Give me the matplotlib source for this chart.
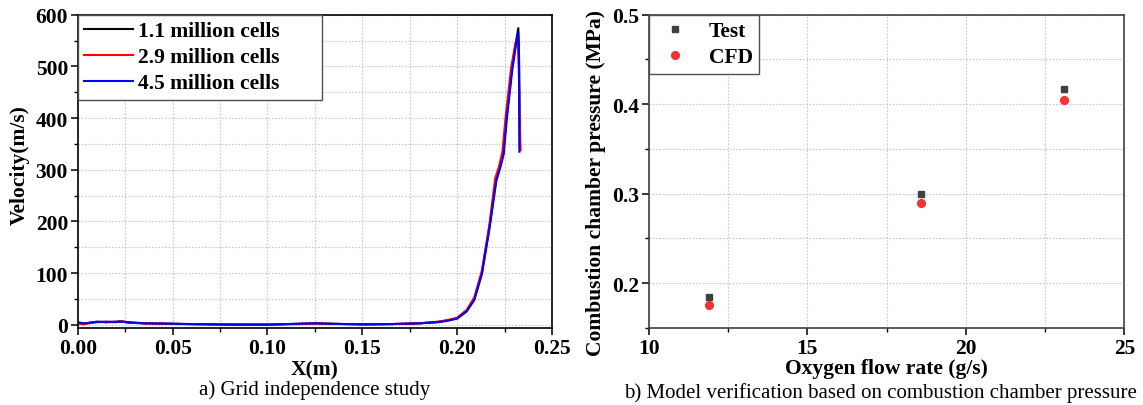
import matplotlib
matplotlib.use("Agg")
import matplotlib.pyplot as plt
from matplotlib.ticker import MultipleLocator, FormatStrFormatter

plt.rcParams['font.family'] = ['Liberation Serif', 'DejaVu Serif']

# ---------------- data: panel a ----------------
x_11 = [0.000, 0.003, 0.006, 0.010, 0.015, 0.020, 0.023, 0.027, 0.035, 0.045, 0.060, 0.080,
        0.100, 0.115, 0.125, 0.135, 0.150, 0.165, 0.180, 0.190, 0.195, 0.200, 0.205, 0.209,
        0.213, 0.217, 0.2205, 0.2225, 0.2243, 0.2260, 0.2288, 0.2310, 0.2322, 0.2326, 0.2328, 0.2330]
v_11 = [4, 2, 4, 6, 5, 6, 7, 4, 3, 2.5, 1.5, 0.5,
        0.5, 2, 3, 2, 1, 1.5, 3, 6, 9, 13, 27, 50,
        100, 190, 280, 305, 332, 402, 495, 548, 574, 520, 430, 340]

x_29 = [0.000, 0.003, 0.006, 0.010, 0.015, 0.020, 0.023, 0.027, 0.035, 0.045, 0.060, 0.080,
        0.100, 0.115, 0.125, 0.135, 0.150, 0.165, 0.180, 0.190, 0.195, 0.200, 0.205, 0.209,
        0.213, 0.217, 0.2200, 0.2220, 0.2238, 0.2256, 0.2284, 0.2307, 0.2320, 0.2326, 0.2330, 0.2334]
v_29 = [3, 1, 3, 5, 6, 5, 7, 5, 3, 2, 1.5, 1,
        0.5, 1.5, 2.5, 2, 1, 1.5, 3, 6, 9, 14, 29, 53,
        105, 195, 283, 306, 334, 405, 497, 545, 560, 470, 390, 338]

x_45 = [0.000, 0.003, 0.006, 0.010, 0.015, 0.020, 0.023, 0.027, 0.035, 0.045, 0.060, 0.080,
        0.100, 0.115, 0.125, 0.135, 0.150, 0.165, 0.180, 0.190, 0.195, 0.200, 0.205, 0.209,
        0.213, 0.217, 0.2206, 0.2226, 0.2245, 0.2262, 0.2290, 0.2311, 0.2322, 0.2326, 0.2327, 0.2328]
v_45 = [5, 3, 4, 6, 6, 6, 6, 5, 3, 2.5, 1.5, 0.5,
        0.5, 2, 3, 2, 1, 1.5, 3, 5, 8, 12, 26, 48,
        98, 186, 278, 303, 330, 400, 492, 545, 565, 500, 420, 335]

series_labels = ['1.1 million cells', '2.9 million cells', '4.5 million cells']
series_colors = ['black', '#ff0000', '#0000ff']

# ---------------- data: panel b ----------------
flow = [11.9, 18.6, 23.1]
p_test = [0.185, 0.2995, 0.417]
p_cfd = [0.176, 0.290, 0.405]

FS = 15.5
fig = plt.figure(figsize=(11.43, 4.06), dpi=100)

ax1 = fig.add_axes([0.068, 0.1897, 0.415, 0.7716])
ax2 = fig.add_axes([0.5678, 0.1897, 0.4158, 0.7716])

grid_kw = dict(color='#c8c8c8', linestyle=(0, (1.5, 1.5)), linewidth=0.8)

# ----- panel a -----
for xs, vs, lab, col in zip([x_11, x_29, x_45], [v_11, v_29, v_45], series_labels, series_colors):
    ax1.plot(xs, vs, color=col, lw=1.5, label=lab)
ax1.set_xlim(0, 0.25)
ax1.set_ylim(-6, 600)
ax1.xaxis.set_major_locator(MultipleLocator(0.05))
ax1.xaxis.set_minor_locator(MultipleLocator(0.025))
ax1.yaxis.set_major_locator(MultipleLocator(100))
ax1.yaxis.set_minor_locator(MultipleLocator(50))
ax1.xaxis.set_major_formatter(FormatStrFormatter('%.2f'))
ax1.grid(True, which='both', **grid_kw)
ax1.set_axisbelow(True)
ax1.set_xlabel('X(m)', fontsize=FS, fontweight='bold', labelpad=1)
ax1.set_ylabel('Velocity(m/s)', fontsize=FS, fontweight='bold')
ax1.yaxis.set_label_coords(-0.1006, 0.523)
leg1 = ax1.legend(loc='upper left', bbox_to_anchor=(0, 1, 0.515, 0), mode='expand',
                  borderaxespad=0, fancybox=False, framealpha=1,
                  edgecolor='#505050', handlelength=2.29, labelspacing=0.28,
                  prop={'size': FS, 'weight': 'bold'}, borderpad=0.3, handletextpad=0.2)
leg1.get_frame().set_linewidth(1.0)

# ----- panel b -----
ax2.plot(flow, p_test, linestyle='none', marker='s', markersize=4.9, color='#404040', label='Test')
ax2.plot(flow, p_cfd, linestyle='none', marker='o', markersize=5.6, color='#f03333', label='CFD')
ax2.set_xlim(10, 25)
ax2.set_ylim(0.15, 0.5)
ax2.xaxis.set_major_locator(MultipleLocator(5))
ax2.xaxis.set_minor_locator(MultipleLocator(2.5))
ax2.yaxis.set_major_locator(MultipleLocator(0.1))
ax2.yaxis.set_minor_locator(MultipleLocator(0.05))
ax2.grid(True, which='both', **grid_kw)
ax2.set_axisbelow(True)
ax2.set_xlabel('Oxygen flow rate (g/s)', fontsize=FS, fontweight='bold', labelpad=0)
ax2.set_ylabel('Combustion chamber pressure (MPa)', fontsize=FS, fontweight='bold')
ax2.yaxis.set_label_coords(-0.0905, 0.466)
leg2 = ax2.legend(loc='upper left', borderaxespad=0, fancybox=False, framealpha=1,
                  edgecolor='#505050', handlelength=1.8, labelspacing=0.28,
                  prop={'size': FS, 'weight': 'bold'}, borderpad=0.3, handletextpad=0.68)
leg2.get_frame().set_linewidth(1.0)

for ax, sc in [(ax1, 'black'), (ax2, '#404040')]:
    for s in ax.spines.values():
        s.set_linewidth(1.2)
        s.set_color(sc)
    ax.tick_params(which='major', direction='out', length=5, width=1.1, labelsize=FS, pad=2)
    ax.tick_params(which='minor', direction='out', length=3, width=1.0)
    for t in ax.get_xticklabels() + ax.get_yticklabels():
        t.set_fontweight('bold')

fig.text(315 / 1143, 1 - 390 / 406, 'a) Grid independence study', ha='center', va='center', fontsize=15)
fig.text(880 / 1143, 1 - 393 / 406, 'b) Model verification based on combustion chamber pressure',
         ha='center', va='center', fontsize=15)

fig.savefig('out.png', dpi=100)
